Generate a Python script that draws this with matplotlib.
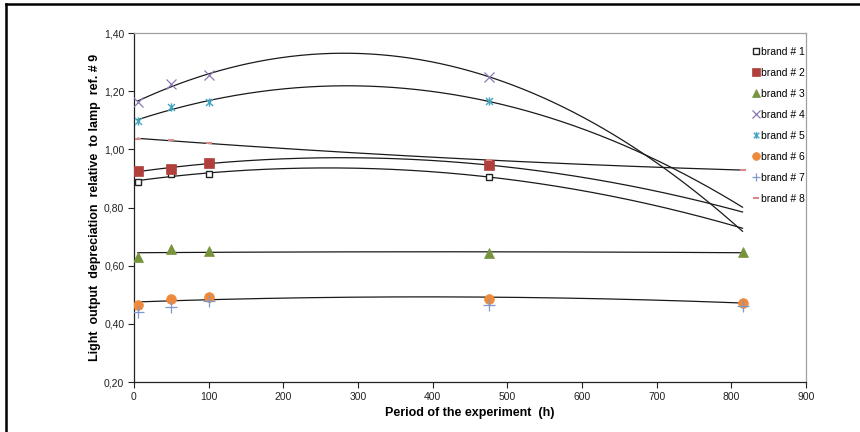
import numpy as np
import matplotlib
matplotlib.use("Agg")
import matplotlib.pyplot as plt
from matplotlib.path import Path
from matplotlib.lines import Line2D
from matplotlib.ticker import FuncFormatter, MultipleLocator

plt.rcParams['font.family'] = ['Liberation Sans', 'DejaVu Sans']

# ---- data ----
hours = [5, 50, 100, 475, 815]
brand1 = [0.889, 0.914, 0.915, 0.905]
brand2 = [0.926, 0.932, 0.954, 0.946]
brand3 = [0.631, 0.657, 0.651, 0.643, 0.646]
brand4 = [1.162, 1.224, 1.255, 1.250]
brand5 = [1.097, 1.147, 1.162, 1.165]
brand6 = [0.465, 0.484, 0.492, 0.487, 0.473]
brand7 = [0.442, 0.459, 0.480, 0.465, 0.461]
brand8 = [1.035, 1.031, 1.022, 0.962, 0.929]
labels = ["brand # 1", "brand # 2", "brand # 3", "brand # 4",
          "brand # 5", "brand # 6", "brand # 7", "brand # 8"]
series = [brand1, brand2, brand3, brand4, brand5, brand6, brand7, brand8]
trend_series = [0, 1, 2, 3, 4, 5, 7]  # brands with polynomial trendlines
trend_end = 815

# ---- styles ----
star = Path([(-1, -1), (1, 1), (-1, 1), (1, -1), (0, -1.2), (0, 1.2)],
            [Path.MOVETO, Path.LINETO, Path.MOVETO, Path.LINETO, Path.MOVETO, Path.LINETO])
dash = Path([(-1, 0), (1, 0)], [Path.MOVETO, Path.LINETO])
styles = [
    dict(marker='s', ms=5, mfc='white', mec='#222222', mew=1.0),
    dict(marker='s', ms=7, mfc='#B1403C', mec='#B1403C', mew=0.5),
    dict(marker='^', ms=7, mfc='#77933C', mec='#77933C', mew=0.5),
    dict(marker='x', ms=7, mfc='none', mec='#8A78B4', mew=0.9),
    dict(marker=star, ms=6, mfc='none', mec='#45A6C0', mew=1.0),
    dict(marker='o', ms=7, mfc='#EE8A3A', mec='#EE8A3A', mew=0.5),
    dict(marker='+', ms=8, mfc='none', mec='#7C98CE', mew=0.9),
    dict(marker=dash, ms=5, mfc='none', mec='#D98A88', mew=1.5),
]

fig = plt.figure(figsize=(8.6, 4.32), dpi=100)
ax = fig.add_axes([0.1558, 0.1157, 0.9372 - 0.1558, 0.9236 - 0.1157])

handles = []
for i, (vals, st) in enumerate(zip(series, styles)):
    xs = hours[:len(vals)]
    h, = ax.plot(xs, vals, linestyle='none', zorder=3, **st)
    handles.append(h)

for i in trend_series:
    vals = series[i]
    xs = hours[:len(vals)]
    coef = np.polyfit(xs, vals, 2)
    gx = np.linspace(xs[0], trend_end, 300)
    ax.plot(gx, np.polyval(coef, gx), color='#1a1a1a', lw=0.9, zorder=2)

ax.set_xlim(0, 900)
ax.set_ylim(0.2, 1.4)
ax.xaxis.set_major_locator(MultipleLocator(100))
ax.yaxis.set_major_locator(MultipleLocator(0.2))
ax.yaxis.set_major_formatter(FuncFormatter(lambda v, p: f"{v:.2f}".replace('.', ',')))
ax.tick_params(axis='both', direction='out', length=4, width=0.8, labelsize=7.5,
               colors='#222222', pad=3)
for s in ['top', 'right']:
    ax.spines[s].set_color('#a0a0a0')
    ax.spines[s].set_linewidth(0.9)
for s in ['left', 'bottom']:
    ax.spines[s].set_color('#222222')
    ax.spines[s].set_linewidth(0.9)

ax.set_xlabel("Period of the experiment  (h)", fontsize=9, fontweight='bold', labelpad=4)
ax.set_ylabel("Light  output  depreciation  relative  to lamp  ref. # 9", fontsize=9,
              fontweight='bold', labelpad=2)

leg = ax.legend(handles, labels, loc='upper left', bbox_to_anchor=(0.915, 0.972),
                frameon=False, fontsize=7.5, handlelength=0.6, handletextpad=0.2,
                labelspacing=1.05, borderaxespad=0, markerscale=0.8)

# outer picture frame (top and left edges)
fig.add_artist(Line2D([6 / 860, 1], [1 - 4 / 432, 1 - 4 / 432], transform=fig.transFigure,
                      color='black', lw=1.8))
fig.add_artist(Line2D([6 / 860, 6 / 860], [0, 1 - 4 / 432], transform=fig.transFigure,
                      color='black', lw=1.8))

fig.savefig("out.png", dpi=100)
